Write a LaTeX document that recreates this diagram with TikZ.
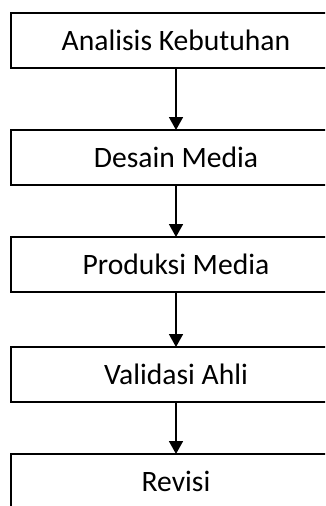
\documentclass[tikz,border=0pt]{standalone}
\usepackage{fontspec}
\setmainfont{Carlito}
\usetikzlibrary{positioning, arrows.meta}
\tikzset{x=1pt, y=-1pt,
every step/.style={ % Sets the properties for each box
draw, line width=1.5pt, fill=white,
minimum width=330pt, minimum height=55pt,
inner sep=0pt, outer sep=0pt,
font=\fontsize{29.6}{34}\selectfont},
flow/.style={ % Sets the properties for each arrow
draw, line width=1.7pt,
-{Triangle[width=14pt,length=13pt]}}}

\begin{document}
\begin{tikzpicture}
    \fill[white] (0,0) rectangle (325,506);
    \clip (0,0) rectangle (325,506);

    \node[every step] (analisis) at (176,40.5) {Analisis Kebutuhan};
    \node[every step, below=62pt of analisis] (desain) {Desain Media};
    \node[every step, below=52pt of desain] (produksi) {Produksi Media};
    \node[every step, below=55pt of produksi] (validasi) {Validasi Ahli};
    \node[every step, below=52pt of validasi] (revisi) {Revisi};

    \draw[flow] (analisis) -- (desain);
    \draw[flow] (desain) -- (produksi);
    \draw[flow] (produksi) -- (validasi);
    \draw[flow] (validasi) -- (revisi);

\end{tikzpicture}
\end{document}
